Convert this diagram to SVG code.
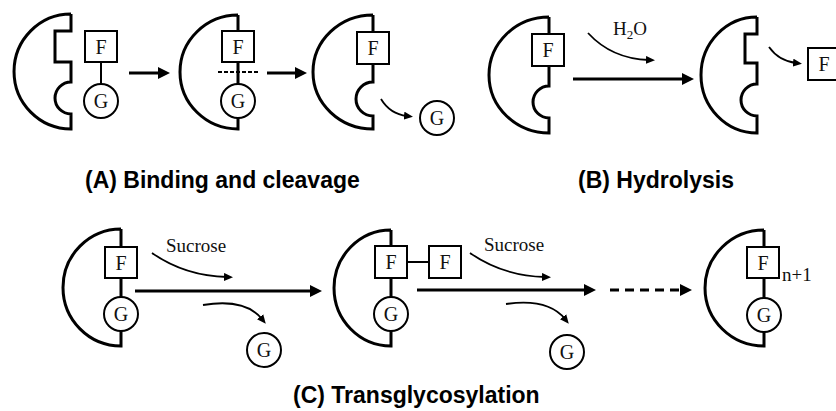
<svg xmlns="http://www.w3.org/2000/svg" width="836" height="411" viewBox="0 0 836 411">
<style>
.enz{fill:none;stroke:#000;stroke-width:3;stroke-linejoin:miter}
.box{fill:#fff;stroke:#000;stroke-width:2}
.lnk{fill:none;stroke:#000;stroke-width:2}
.lbl{font-family:"Liberation Serif","Times New Roman",serif;font-size:20px;fill:#111;text-anchor:middle}
.sm{font-family:"Liberation Serif","Times New Roman",serif;font-size:19px;fill:#111}
.ttl{font-family:"Liberation Sans",Arial,sans-serif;font-weight:bold;font-size:23px;fill:#000}
.arr{fill:none;stroke:#000;stroke-width:3}
.crv{fill:none;stroke:#000;stroke-width:1.8}
</style>
<defs>
<marker id="ah" markerUnits="userSpaceOnUse" markerWidth="12" markerHeight="12" refX="4" refY="6" orient="auto">
<path d="M0,0 L12,6 L0,12 Z" fill="#000"/>
</marker>
<marker id="sh" markerUnits="userSpaceOnUse" markerWidth="10" markerHeight="8" refX="3" refY="4" orient="auto">
<path d="M0,0 L9,4 L0,8 Z" fill="#000"/>
</marker>
</defs>

<!-- Panel A -->
<g id="enzymeA1">
<path class="enz" d="M71,14 L71,31 L55,31 L55,62 L71,62 L71,82 A16,16 0 0 0 71,114 L71,129 A57,57.5 0 0 1 71,14"/>
</g>
<g id="substrateA1">
<line class="lnk" x1="101" y1="62" x2="101" y2="84"/>
<rect class="box" x="85" y="31" width="32" height="31"/>
<text class="lbl" x="101" y="53.5">F</text>
<circle class="box" cx="101" cy="101" r="17"/>
<text class="lbl" x="101" y="108">G</text>
</g>
<g id="enzymeA2">
<path class="enz" d="M238,15 L238,129 A58,57 0 0 1 238,15"/>
<rect class="box" x="222" y="31" width="32" height="31"/>
<text class="lbl" x="238" y="53.5">F</text>
<circle class="box" cx="238" cy="101" r="17"/>
<text class="lbl" x="238" y="108">G</text>
<line x1="218" y1="72" x2="259" y2="72" stroke="#000" stroke-width="2" stroke-dasharray="4 2"/>
</g>
<g id="enzymeA3">
<path class="enz" d="M373,15 L373,82 A17,17 0 0 0 373,116 L373,129 A60,57 0 0 1 373,15"/>
<rect class="box" x="357" y="32" width="32" height="32"/>
<text class="lbl" x="373" y="55">F</text>
</g>
<g id="releasedGA">
<circle class="box" cx="437" cy="118" r="17"/>
<text class="lbl" x="437" y="125">G</text>
</g>

<!-- Panel B -->
<g id="enzymeB1">
<path class="enz" d="M549,17 L549,86 A16,16 0 0 0 549,118 L549,133 A60,58 0 0 1 549,17"/>
<rect class="box" x="532" y="34" width="32" height="32"/>
<text class="lbl" x="548" y="57">F</text>
</g>
<g id="enzymeB2">
<path class="enz" d="M757,17 L757,34 L745,34 L745,63 L757,63 L757,84 A16,16 0 0 0 757,116 L757,133 A56,58 0 0 1 757,17"/>
</g>
<g id="releasedFB">
<rect class="box" x="808" y="48" width="33" height="32"/>
<text class="lbl" x="824" y="71">F</text>
</g>
<text class="sm" x="613" y="35">H<tspan font-size="13" dy="4">2</tspan><tspan dy="-4">O</tspan></text>

<!-- Panel C -->
<g id="enzymeC1">
<path class="enz" d="M121,229 L121,346 A58,58.5 0 0 1 121,229"/>
<line class="lnk" x1="121" y1="278" x2="121" y2="297"/>
<rect class="box" x="105" y="247" width="32" height="31"/>
<text class="lbl" x="121" y="269.5">F</text>
<circle class="box" cx="121" cy="314" r="17"/>
<text class="lbl" x="121" y="321">G</text>
</g>
<g id="releasedGC1">
<circle class="box" cx="264" cy="350" r="17"/>
<text class="lbl" x="264" y="357">G</text>
</g>
<g id="enzymeC2">
<path class="enz" d="M391,230 L391,346 A57,58 0 0 1 391,230"/>
<line class="lnk" x1="407" y1="262" x2="429" y2="262"/>
<rect class="box" x="375" y="246" width="32" height="32"/>
<text class="lbl" x="391" y="269">F</text>
<rect class="box" x="429" y="246" width="32" height="32"/>
<text class="lbl" x="445" y="269">F</text>
<circle class="box" cx="391" cy="314" r="17"/>
<text class="lbl" x="391" y="321">G</text>
</g>
<g id="releasedGC2">
<circle class="box" cx="567" cy="352" r="17"/>
<text class="lbl" x="567" y="359">G</text>
</g>
<g id="enzymeC3">
<path class="enz" d="M764,230 L764,346 A59,58 0 0 1 764,230"/>
<rect class="box" x="747" y="247" width="32" height="31"/>
<text class="lbl" x="763" y="269.5">F</text>
<circle class="box" cx="764" cy="315" r="17"/>
<text class="lbl" x="764" y="322">G</text>
<text class="sm" x="782" y="281" font-size="18">n+1</text>
</g>
<text class="sm" x="166" y="252">Sucrose</text>
<text class="sm" x="484" y="251">Sucrose</text>

<!-- Connectors -->
<g id="connectors">
<line class="arr" x1="129" y1="73" x2="162" y2="73" marker-end="url(#ah)"/>
<line class="arr" x1="267" y1="73" x2="299" y2="73" marker-end="url(#ah)"/>
<path class="crv" d="M381,99 Q390,114 407,116" marker-end="url(#sh)"/>
<line class="arr" x1="573" y1="79" x2="686" y2="79" marker-end="url(#ah)"/>
<path class="crv" d="M588,33 Q612,59 649,60" marker-end="url(#sh)"/>
<path class="crv" d="M769,47 Q779,61 796,63" marker-end="url(#sh)"/>
<line class="arr" x1="135" y1="291" x2="314" y2="291" marker-end="url(#ah)"/>
<path class="crv" d="M152,253 Q185,276 227,277" marker-end="url(#sh)"/>
<path class="crv" d="M203,305 Q245,298 262,319" marker-end="url(#sh)"/>
<line class="arr" x1="417" y1="290" x2="588" y2="290" marker-end="url(#ah)"/>
<path class="crv" d="M470,253 Q503,276 545,277" marker-end="url(#sh)"/>
<path class="crv" d="M506,304 Q548,298 565,319" marker-end="url(#sh)"/>
<line class="arr" x1="610" y1="290" x2="684" y2="290" stroke-dasharray="9 6" marker-end="url(#ah)"/>
</g>

<!-- Titles -->
<text class="ttl" x="85" y="188">(A) Binding and cleavage</text>
<text class="ttl" x="578" y="188">(B) Hydrolysis</text>
<text class="ttl" x="293" y="403">(C) Transglycosylation</text>
</svg>
